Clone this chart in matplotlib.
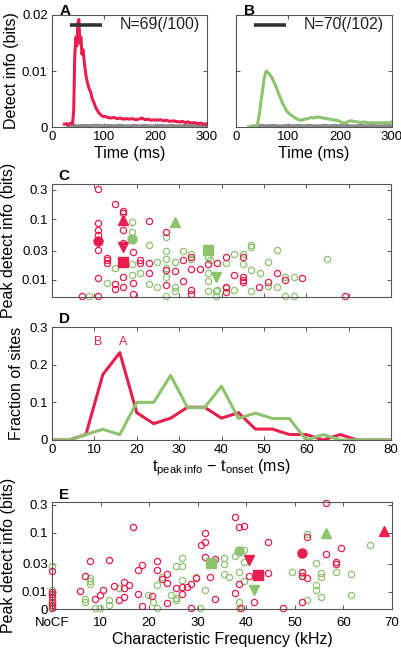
import numpy as np
import matplotlib
matplotlib.use("Agg")
import matplotlib.pyplot as plt

plt.rcParams['font.family'] = ['Liberation Sans', 'DejaVu Sans']
plt.rcParams['mathtext.fontset'] = 'custom'
plt.rcParams['mathtext.rm'] = 'Liberation Sans'
plt.rcParams['mathtext.it'] = 'Liberation Sans:italic'

RED = '#E81E4E'
GREEN = '#8DC26F'
GRAY = '#8a8a8a'
SPINE = '#555555'

# ---- panels A / B : detect info over time ----
trace_time = [24, 28, 32, 36, 40, 42, 44, 46, 48, 50, 52, 54, 56, 58, 60, 63, 66, 69,
              72, 75, 78, 81, 84, 87, 90, 94, 98] + list(range(102, 301, 6))
info_a = [.0005, .0006, .0004, .0007, .0006, .0030, .0125, .0160, .0145, .0185, .0192,
          .0150, .0160, .0130, .0138, .0112, .0090, .0078, .0068, .0062, .0050, .0044,
          .0036, .0031, .0026, .0022, .0019,
          .0019, .0017, .0016, .0017, .0015, .0016, .0014, .0015, .0014, .0015, .0013,
          .0014, .0016, .0013, .0014, .0012, .0013, .0012, .0013, .0011, .0012, .0010,
          .0011, .0010, .0009, .0010, .0008, .0009, .0007, .0008, .0006, .0007, .0005, .0006]
info_b = [.0000, .0001, .0002, .0002, .0003, .0008, .0018, .0030, .0045, .0058, .0072,
          .0085, .0094, .0100, .0098, .0096, .0092, .0088, .0082, .0076, .0070, .0062,
          .0055, .0048, .0041, .0035, .0028,
          .0024, .0020, .0016, .0013, .0012, .0014, .0015, .0017, .0016, .0018, .0017,
          .0016, .0015, .0014, .0013, .0012, .0011, .0008, .0007, .0010, .0011, .0010,
          .0009, .0008, .0009, .0008, .0007, .0008, .0007, .0008, .0007, .0008, .0007, .0009]
gray_time = list(range(30, 301, 10))
shuffle_a = [.0002, .0003, .0002, .0003, .0002, .0003, .0003, .0002, .0003, .0002, .0003, .0002,
             .0002, .0003, .0002, .0003, .0002, .0002, .0003, .0002, .0003, .0002, .0002, .0003,
             .0002, .0003, .0002, .0002]
shuffle_b = [.0001, .0002, .0003, .0002, .0003, .0002, .0002, .0003, .0002, .0003, .0002, .0003,
             .0002, .0002, .0003, .0002, .0003, .0002, .0003, .0002, .0002, .0003, .0002, .0003,
             .0002, .0002, .0003, .0002]
n_labels = ['N=69(/100)', 'N=70(/102)']

# ---- panel C : peak detect info vs latency (ms) ----
c_red_ms = [10.8, 14.9, 10.8, 10.8, 10.8, 10.8, 10.8, 10.8, 7.0, 12.9, 12.9, 12.9, 14.9, 14.9,
            16.8, 16.8, 16.8, 16.8, 16.8, 16.8, 19.0, 19.0, 19.0, 20.8, 20.8, 22.9, 22.9, 22.9,
            26.9, 26.9, 26.8, 29.0, 30.9, 30.8, 32.9, 32.9, 32.9, 32.9, 34.9, 36.8, 39.0, 41.0,
            45.0, 43.0, 45.0, 45.0, 45.0, 41.0, 41.0, 48.9, 51.0, 53.0, 55.0, 59.0, 69.1]
c_red_val = [0.31, 0.176, 0.085, 0.066, 0.055, 0.031, 0.0109, 0, 0, 0.023, 0.021, 0.019, 0.0086,
             0.0072, 0.135, 0.124, 0.066, 0.04, 0.011, 0.0078, 0.029, 0.009, 0.006, 0.021, 0.019,
             0.094, 0.019, 0.013, 0.061, 0.0083, 0.0145, 0.014, 0.021, 0.0095, 0.024, 0.015,
             0.0069, 0.006, 0.015, 0.018, 0.019, 0.024, 0.024, 0.012, 0.011, 0.010, 0.0094,
             0.0078, 0.0064, 0.0078, 0.0092, 0.0128, 0.010, 0.0106, 0]
c_green_ms = [8.8, 14.9, 12.9, 18.8, 18.8, 18.8, 18.8, 20.8, 22.9, 22.9, 24.8, 24.8, 26.9, 26.9,
              26.9, 26.9, 26.9, 26.9, 29.0, 29.0, 29.0, 31.0, 32.9, 32.9, 36.9, 36.9, 36.9, 36.9,
              38.8, 38.8, 37.3, 39.0, 41.0, 41.0, 43.0, 43.0, 45.0, 45.0, 47.0, 47.0, 47.0, 47.0,
              49.0, 51.0, 51.0, 53.0, 53.0, 55.0, 55.0, 57.0, 57.0, 65.0]
c_green_val = [0, 0.0155, 0.009, 0.088, 0.061, 0.018, 0.012, 0.013, 0.037, 0.0086, 0.020, 0.0076,
               0.05, 0.03, 0.022, 0.016, 0.011, 0, 0.02, 0.0078, 0.0067, 0.03, 0.027, 0.022,
               0.024, 0.013, 0.0095, 0.0067, 0.0067, 0, 0.021, 0.0069, 0.019, 0.0073, 0.027,
               0.0069, 0.027, 0.018, 0.0375, 0.035, 0.0145, 0.0067, 0.013, 0.020, 0.008, 0.031,
               0.0078, 0.011, 0, 0.011, 0, 0.022]

special_markers = ['o', '^', 'v', 's']
c_red_sp_ms = [10.8, 16.8, 16.8, 16.8]
c_red_sp_val = [0.044, 0.098, 0.035, 0.020]
c_green_sp_ms = [18.8, 29.0, 38.8, 36.9]
c_green_sp_val = [0.047, 0.09, 0.011, 0.031]

# ---- panel D : latency histograms ----
lat_bins = [0, 4, 8, 12, 16, 20, 24, 28, 32, 36, 40, 44, 48, 52, 56, 60, 64, 68, 72, 76, 80]
frac_a = np.array([0, 0, 1, 12, 16, 5, 3, 4, 6, 6, 4, 5, 2, 2, 1, 1, 0, 1, 0, 0, 0]) / 69
frac_b = np.array([0, 0, 1, 2, 1, 7, 7, 12, 6, 6, 10, 4, 5, 4, 4, 0, 1, 0, 0, 0, 0]) / 70

# ---- panel E : peak detect info vs CF (kHz); 0 = NoCF ----
e_red_khz = [0, 0, 0, 0, 0, 0, 0, 5.7, 6.7, 7.8, 9.8, 8.8, 10.6, 11.7, 12.7, 13.7, 14.8, 14.8,
             14.8, 15.8, 16.7, 17.7, 17.7, 18.6, 18.6, 20.5, 21.6, 21.6, 22.6, 23.6, 23.6, 23.6,
             25.6, 26.7, 26.7, 27.7, 28.7, 28.7, 29.7, 30.6, 31.6, 31.6, 31.6, 32.6, 33.6, 33.6,
             37.6, 38.6, 39.6, 37.6, 38.6, 38.9, 40.6, 41.5, 44.5, 44.5, 47.6, 51.5, 51.5, 51.5,
             52.5, 52.5, 56.4, 56.4, 58.4, 58.4, 59.5]
e_red_val = [0.0227, 0.010, 0.0091, 0.0083, 0.0068, 0.006, 0, 0.0105, 0.019, 0.033, 0.0089,
             0.0076, 0.0108, 0.035, 0.0128, 0.0073, 0.0146, 0.0116, 0.0083, 0.013, 0.128, 0.0236,
             0.0092, 0.0287, 0.0058, 0.0086, 0.033, 0.024, 0.0166, 0.02, 0.014, 0.0065, 0.0118,
             0.0091, 0.012, 0.0123, 0.0135, 0, 0.017, 0.063, 0.098, 0.069, 0.039, 0.018, 0.036,
             0.0076, 0.188, 0.128, 0.131, 0.0095, 0.0135, 0, 0.019, 0.0067, 0.069, 0.0207, 0,
             0.022, 0.019, 0.0068, 0.0175, 0.086, 0.32, 0.044, 0.032, 0.030, 0.055]
e_green_khz = [0, 0, 0, 0, 0, 6.7, 6.7, 7.8, 7.8, 7.8, 8.8, 9.8, 11.7, 11.7, 13.7, 19.7, 20.7,
               21.6, 21.6, 22.6, 24.6, 25.6, 26.7, 26.7, 26.7, 25.6, 25.6, 29.7, 30.5, 31.6, 35.5,
               35.5, 35.5, 36.5, 37.6, 39.6, 38.6, 39.6, 39.6, 38.6, 38.6, 49.4, 51.5, 51.5, 52.5,
               52.5, 54.4, 54.4, 54.4, 55.4, 55.4, 55.4, 58.4, 61.5, 61.5, 65.4]
e_green_val = [0.028, 0.011, 0.0073, 0.0065, 0.0055, 0.0076, 0.0067, 0.0175, 0.0154, 0.0135, 0, 0,
               0.0073, 0.006, 0.0118, 0.0089, 0.0067, 0.013, 0, 0.018, 0.0089, 0.0277, 0.0277,
               0.038, 0.016, 0.0078, 0.0072, 0.018, 0, 0.0107, 0.038, 0.0295, 0.02, 0.018, 0.041,
               0.051, 0.022, 0.032, 0.0154, 0.0068, 0, 0.022, 0.021, 0.019, 0.095, 0.0073, 0.0306,
               0.013, 0.0108, 0.021, 0.018, 0.0083, 0.022, 0.02, 0.0089, 0.063]
e_red_sp_khz = [51.5, 68.3, 40.6, 42.4]
e_red_sp_val = [0.045, 0.108, 0.035, 0.0195]
e_green_sp_khz = [38.6, 56.4, 41.5, 32.8]
e_green_sp_val = [0.05, 0.098, 0.0108, 0.031]

log_ticks = [0.01, 0.03, 0.1, 0.3]
log_labels = ['0.01', '0.03', '0.1', '0.3']
cf_ticks = [0, 10, 20, 30, 40, 50, 60, 70]
cf_labels = ['NoCF', '10', '20', '30', '40', '50', '60', '70']

TICK_FS = 9.5
LABEL_FS = 11.5


def style(ax):
    for s in ax.spines.values():
        s.set_color(SPINE)
        s.set_linewidth(0.8)
    ax.tick_params(direction='in', length=3, width=0.7, color=SPINE,
                   labelsize=TICK_FS, top=True, right=True, pad=3)
    ax.tick_params(which='minor', length=0)


fig = plt.figure(figsize=(4.02, 6.49), dpi=100)
W, H = 402.0, 649.0


def add_ax(x0, y0, x1, y1):
    return fig.add_axes([x0 / W, 1 - y1 / H, (x1 - x0) / W, (y1 - y0) / H])


# A and B
for k, (vals, shuf, col) in enumerate([(info_a, shuffle_a, RED), (info_b, shuffle_b, GREEN)]):
    ax = add_ax(52, 15, 207, 127) if k == 0 else add_ax(236, 15, 392, 127)
    ax.plot(gray_time, shuf, color=GRAY, lw=2.2)
    ax.plot(trace_time, vals, color=col, lw=2.2)
    ax.plot([35, 97], [0.0183, 0.0183], color='#333333', lw=2.6, solid_capstyle='butt')
    ax.text(131, 0.0183, n_labels[k], fontsize=LABEL_FS, va='center', ha='left', color='#222222')
    ax.set_xlim(0, 300)
    ax.set_ylim(0, 0.02)
    ax.set_xticks([0, 100, 200, 300])
    ax.set_yticks([0, 0.01, 0.02])
    if k == 0:
        ax.set_yticklabels(['0', '0.01', '0.02'])
        ax.set_ylabel('Detect info (bits)', fontsize=LABEL_FS, labelpad=2)
    else:
        ax.set_yticklabels([])
    ax.set_xlabel('Time (ms)', fontsize=LABEL_FS, labelpad=2)
    style(ax)
    ax.text(0.05, 1.04, 'AB'[k], transform=ax.transAxes,
            fontsize=11, fontweight='bold', ha='left', va='center')

# C
axc = add_ax(52, 184, 391, 297)
c_lo = 0.00526
axc.set_yscale('log')
axc.plot(c_green_ms, np.maximum(c_green_val, c_lo * 1.03), 'o', ms=4.5, mfc='none',
         mec=GREEN, mew=0.9, clip_on=False)
axc.plot(c_red_ms, np.maximum(c_red_val, c_lo * 1.03), 'o', ms=4.5, mfc='none',
         mec=RED, mew=0.9, clip_on=False)
for m, x, y in zip(special_markers, c_red_sp_ms, c_red_sp_val):
    axc.plot(x, y, m, ms=6.5, color=RED, mec=RED)
for m, x, y in zip(special_markers, c_green_sp_ms, c_green_sp_val):
    axc.plot(x, y, m, ms=6.5, color=GREEN, mec=GREEN)
axc.set_xlim(0, 80)
axc.set_ylim(c_lo, 0.375)
axc.set_xticks(range(10, 80, 10))
axc.set_xticklabels([])
axc.set_yticks(log_ticks)
axc.set_yticklabels(log_labels)
axc.set_ylabel('Peak detect info (bits)', fontsize=LABEL_FS, labelpad=4)
style(axc)
axc.text(0.02, 1.07, 'C', transform=axc.transAxes, fontsize=11, fontweight='bold', va='center')

# D
axd = add_ax(52, 327, 391, 440)
axd.plot(lat_bins, frac_a, color=RED, lw=2.2)
axd.plot(lat_bins, frac_b, color=GREEN, lw=2.2)
axd.text(11, 0.26, 'B', color=RED, fontsize=9, ha='center', va='center')
axd.text(16.9, 0.26, 'A', color=RED, fontsize=9, ha='center', va='center')
axd.set_xlim(0, 80)
axd.set_ylim(0, 0.3)
axd.set_xticks(range(0, 81, 10))
axd.set_yticks([0, 0.1, 0.2, 0.3])
axd.set_yticklabels(['0', '0.1', '0.2', '0.3'])
axd.set_ylabel('Fraction of sites', fontsize=LABEL_FS, labelpad=4)
axd.set_xlabel(r'$\mathrm{t_{peak\ info}}$ $-$ $\mathrm{t_{onset}}$ (ms)', fontsize=LABEL_FS,
               labelpad=1)
style(axd)
axd.text(0.02, 1.07, 'D', transform=axd.transAxes, fontsize=11, fontweight='bold', va='center')

# E
axe = add_ax(52, 502, 392, 609)
e_lo = 0.00515
axe.set_yscale('log')
axe.plot(e_green_khz, np.maximum(e_green_val, e_lo * 1.03), 'o', ms=4.5, mfc='none',
         mec=GREEN, mew=0.9, clip_on=False)
axe.plot(e_red_khz, np.maximum(e_red_val, e_lo * 1.03), 'o', ms=4.5, mfc='none',
         mec=RED, mew=0.9, clip_on=False)
for m, x, y in zip(special_markers, e_red_sp_khz, e_red_sp_val):
    axe.plot(x, y, m, ms=6.5, color=RED, mec=RED, clip_on=False)
for m, x, y in zip(special_markers, e_green_sp_khz, e_green_sp_val):
    axe.plot(x, y, m, ms=6.5, color=GREEN, mec=GREEN)
axe.set_xlim(0, 70)
axe.set_ylim(e_lo, 0.334)
axe.set_xticks(cf_ticks)
axe.set_xticklabels(cf_labels)
axe.set_yticks([e_lo] + log_ticks)
axe.set_yticklabels(['0'] + log_labels)
axe.set_ylabel('Peak detect info (bits)', fontsize=LABEL_FS, labelpad=4)
axe.set_xlabel('Characteristic Frequency (kHz)', fontsize=LABEL_FS, labelpad=2)
style(axe)
axe.tick_params(axis='x', pad=6)
axe.text(0.02, 1.07, 'E', transform=axe.transAxes, fontsize=11, fontweight='bold', va='center')

fig.savefig('out.png', dpi=100)
